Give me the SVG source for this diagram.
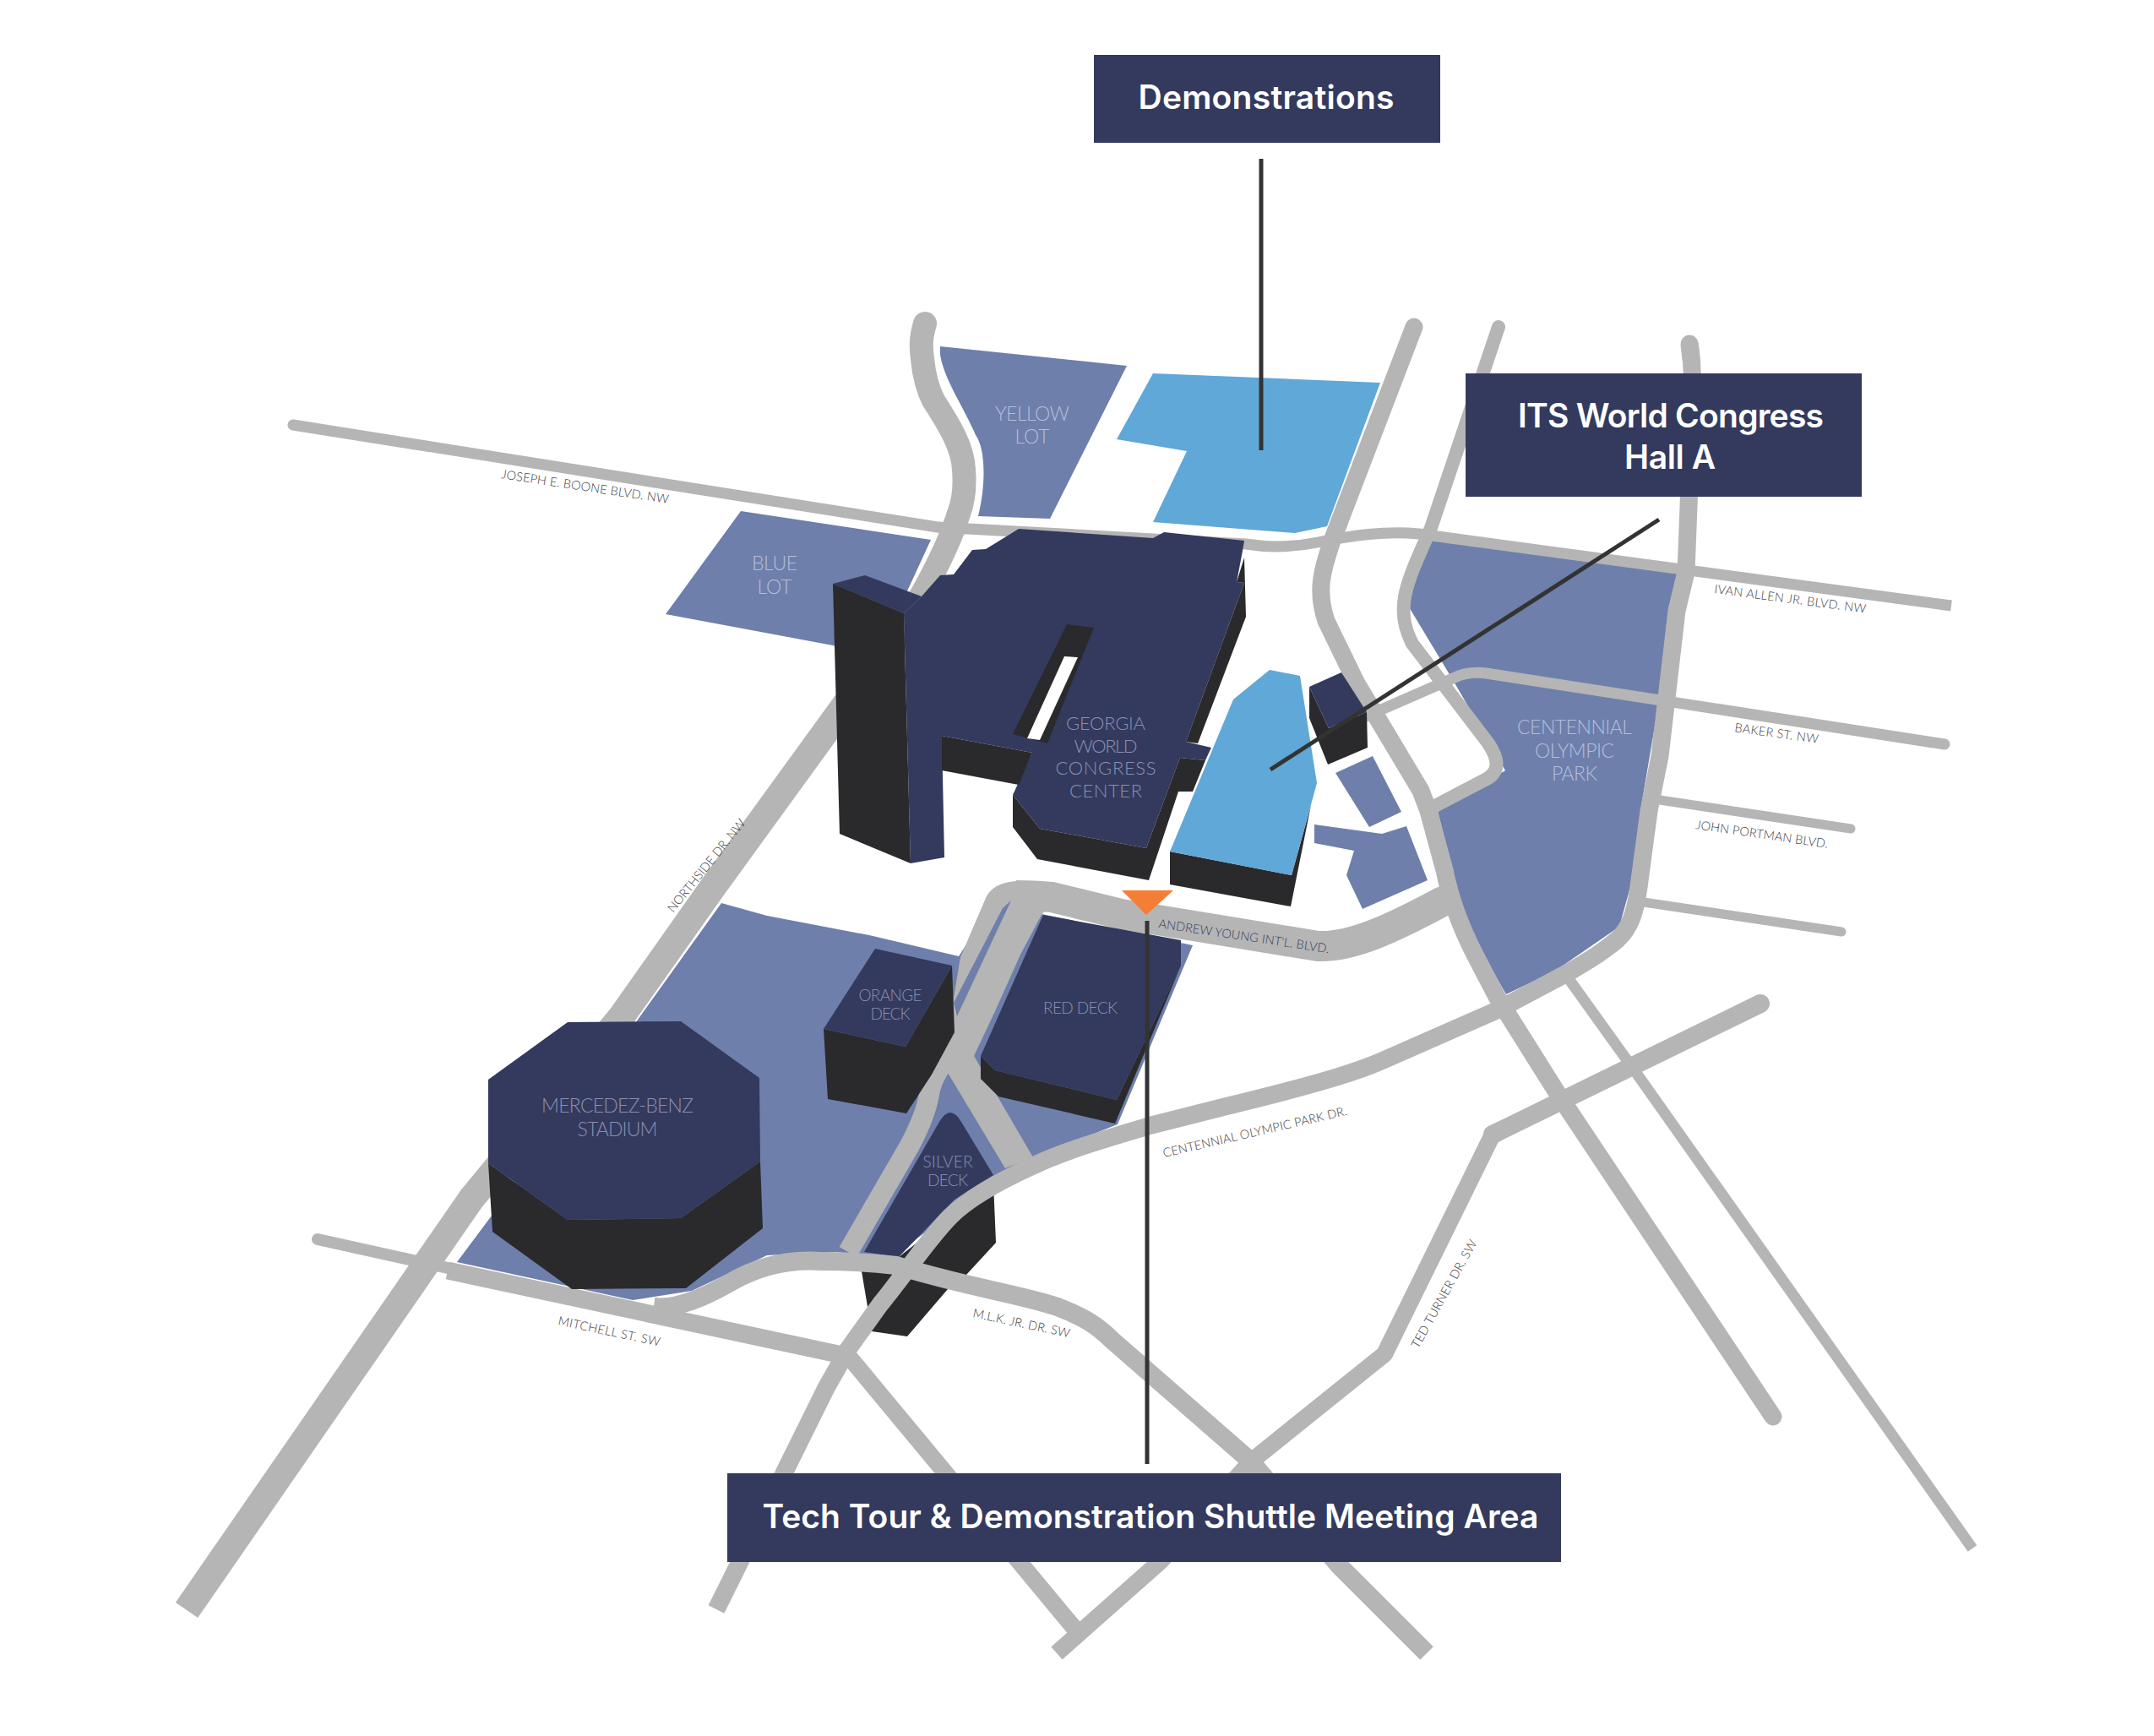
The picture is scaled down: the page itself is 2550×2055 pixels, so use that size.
<svg xmlns="http://www.w3.org/2000/svg" width="2550" height="2055" viewBox="0 0 2550 2055">
<style>
.lot{fill:#6e7fab}
.hall{fill:#5fa8d8}
.navy{fill:#333a5e}
.dark{fill:#2a2a2c}
.road{fill:none;stroke:#b5b5b5;stroke-linejoin:round}
.roadfill{fill:#b5b5b5}
.rc{stroke-linecap:round}
.call{fill:#333a5e}
.ct{font-family:"Inter","Liberation Sans",sans-serif;font-weight:600;fill:#fff;font-size:39px;text-anchor:middle}
.ll{font-family:"Lato","Liberation Sans",sans-serif;font-weight:300;fill:#b3bedc;text-anchor:middle;font-size:23px}
.nl{font-family:"Lato","Liberation Sans",sans-serif;font-weight:300;fill:#8a8fb2;text-anchor:middle;font-size:22px}
.st{font-family:"Lato","Liberation Sans",sans-serif;font-weight:300;fill:#3a3a42;font-size:14.5px}
.cl{stroke:#333;stroke-width:5;fill:none}
</style>
<rect width="2550" height="2055" fill="#fff"/>
<g id="lots">
<path id="yellow-lot" class="lot" d="M1113,410 L1334,433 L1243,614 L1158,611 C1168,570 1166,530 1155,515 C1140,480 1118,450 1113,420Z"/>
<path id="blue-lot" class="lot" d="M877,605 L1102,639 L1060,730 L1040,780 L986,764 L788,727Z"/>
<path id="demo-area" class="hall" d="M1365,442 L1634,453 L1571,623 L1533,631 L1365,618 L1405,534 L1322,520Z"/>
<path id="stadium-lot" class="lot" d="M854,1069 L908,1084 L1029,1107 L1135,1132 L1178,1065 L1225,1075 L1233,1082 L1412,1119 L1323,1331 L1224,1370 L1215,1395 L1176,1400 L1050,1492 L991,1482 L908,1486 L819,1528 L749,1539 L541,1494 L755,1207Z"/>
<path id="park" class="lot" d="M1690,639 L1995,680 L1965,824 L1942,960 L1930,1050 L1917,1097 L1840,1150 L1783,1177 L1740,1103 L1720,1033 L1702,960 L1782,912 L1720,805 L1667,717 L1672,680Z"/>
<path id="small-lot-1" class="lot" d="M1625,895 L1581,915 L1621,979 L1659,961Z"/>
<path id="small-lot-2" class="lot" d="M1556,976 L1636,987 L1665,978 L1690,1042 L1613,1076 L1594,1036 L1603,1007 L1556,998Z"/>
</g>
<g id="silver-deck">
<path class="dark" d="M1176,1400 L1179,1471 L1144,1509 L1122,1526 L1074,1582 L1032,1576 L1020,1505 L1064,1488Z"/>
<path class="navy" d="M1112,1328 Q1125,1306 1138,1328 L1176,1391 L1130,1420 L1064,1488 L1023,1482Z"/>
</g>
<g id="roads">
<path class="road rc" stroke-width="28" d="M1095,383 C1090,400 1090,410 1092,425 C1094,445 1098,460 1105,474 C1125,505 1140,530 1141,556 C1143,580 1140,595 1135,608 C1125,640 1110,670 1091,704 L1040,780"/>
<path class="road" stroke-width="32" d="M1040,780 L844,1050 L736,1203 L558,1419 L221,1906"/>
<path class="road rc" stroke-width="13" d="M347,503 L1110,624"/>
<path class="road" stroke-width="13" d="M1110,624 L1475,644 C1500,648 1530,648 1560,642 C1600,634 1640,628 1680,632 L2310,717"/>
<path class="road rc" stroke-width="21" d="M1674,387 L1577,640 C1565,675 1558,700 1570,735 L1606,809 L1682,936 L1691,960 L1710,1030 C1716,1060 1728,1095 1746,1130 L1772,1180 L1843,1293 L2099,1677"/>
<path class="road rc" stroke-width="16" d="M1774,387 L1694,625 C1665,690 1650,720 1672,762 L1762,880 Q1782,910 1760,922 L1697,955"/>
<path class="road rc" stroke-width="13" d="M1617,848 L1720,803 Q1740,793 1766,798 L2302,881"/>
<path class="road rc" stroke-width="21" d="M2000,407 L2002,425"/>
<path class="road" stroke-width="21" d="M2000,407 C2006,440 2003,480 1999,600 L1996,677 L1985,723 L1965,895 L1952,960 L1940,1050 C1936,1080 1930,1098 1915,1112 C1900,1125 1870,1145 1840,1160 L1772,1196 L1640,1254 C1600,1272 1540,1288 1450,1310 L1363,1332 C1310,1348 1260,1362 1223,1380 C1190,1395 1150,1415 1125,1440 C1100,1465 1070,1510 1042,1544 L1004,1597 L978,1643 L928,1744 L848,1905"/>
<path class="road rc" stroke-width="11" d="M1965,947 L2191,981"/>
<path class="road rc" stroke-width="11" d="M1946,1068 L2180,1103"/>
<path class="road" stroke-width="13" d="M1858,1160 L1937,1270 L2335,1833"/>
<path class="road" stroke-width="20" d="M1251,1957 L1374,1848 L1481,1730 L1639,1603 L1767,1343"/>
<path class="road rc" stroke-width="22" d="M1767,1343 L2084,1188"/>
<path class="road rc" stroke-width="14" d="M376,1467 L530,1501"/>
<path class="road" stroke-width="21" d="M530,1504 L997,1604"/>
<path class="road" stroke-width="22" d="M774,1547 C800,1550 835,1535 863,1519 C895,1500 930,1490 972,1493 C1005,1493 1035,1495 1061,1498 C1150,1525 1200,1530 1252,1547 C1285,1560 1300,1570 1316,1586 L1481,1730 L1585,1853 L1689,1957"/>
<path class="road" stroke-width="20" d="M1000,1600 L1274,1930"/>
<path class="road" stroke-width="36" d="M1725,1060 L1706,1068 C1650,1098 1600,1122 1560,1120 L1450,1102 L1327,1082 L1245,1062 Q1225,1060 1203,1060"/>
<path class="roadfill" d="M1203,1043 Q1175,1045 1167,1063 L1137,1133 L1128,1187 L1117,1247 Q1115,1260 1122,1270 L1190,1383 L1223,1370 L1153,1250 L1178,1197 L1208,1130 L1233,1083 L1260,1050Z"/>
<path class="lot" d="M1197,1066 L1133,1203 L1129,1187 L1187,1075Z"/>
<path class="road" stroke-width="24" d="M1130,1240 C1115,1260 1103,1275 1100,1295 C1097,1315 1088,1335 1077,1356 L1004,1482"/>
</g>
<g id="georgia-world-congress-center">
<path class="navy" d="M1091,706 L1113,681 L1129,680 L1151,651 L1167,650 L1206,626 L1365,637 L1378,630 L1473,640 L1471,652 L1464,689 L1473,690 L1404,878 L1434,885 L1427,900 L1397,897 L1357,1004 L1231,981 L1199,941 L1222,891 L1115,871 L1118,1015 L1078,1022 L1070,726Z"/>
<path class="navy" d="M986,691 L1024,681 L1091,706 L1070,726Z"/>
<path class="dark" d="M986,691 L1070,726 L1078,1022 L994,987Z"/>
<path class="dark" d="M1115,871 L1222,891 L1206,929 L1115,912Z"/>
<path class="dark" d="M1263,739 L1295,743 L1240,880 L1199,869Z"/>
<path fill="#fff" d="M1260,777 L1276,778 L1231,876 L1216,874Z"/>
<path class="dark" d="M1473,660 L1475,730 L1418,880 L1404,878 L1473,690 L1464,689Z"/>
<path class="dark" d="M1199,941 L1199,979 L1228,1017 L1360,1042 L1395,937 L1412,937 L1427,900 L1397,897 L1357,1004 L1231,981Z"/>
<text class="nl" x="1309" y="864" textLength="94">GEORGIA</text>
<text class="nl" x="1309" y="891" textLength="75">WORLD</text>
<text class="nl" x="1309" y="917" textLength="119">CONGRESS</text>
<text class="nl" x="1309" y="944" textLength="86">CENTER</text>
</g>
<g id="hall-a">
<path class="dark" d="M1385,1008 L1385,1047 L1528,1073 L1552,953 L1529,1036Z"/>
<path class="hall" d="M1503,793 L1539,800 L1559,927 L1529,1036 L1385,1008 L1460,828Z"/>
</g>
<g id="small-building">
<path class="dark" d="M1550,813 L1550,850 L1572,905 L1619,885 L1618,843 L1573,862Z"/>
<path class="navy" d="M1588,796 L1550,813 L1573,862 L1618,843Z"/>
</g>
<g id="orange-deck">
<path class="dark" d="M975,1218 L980,1301 L1073,1318 L1103,1272 L1130,1222 L1127,1143 L1072,1239Z"/>
<path class="navy" d="M1036,1123 L1127,1143 L1072,1239 L975,1218Z"/>
<text class="nl" style="font-size:19px" x="1054" y="1185" textLength="75">ORANGE</text>
<text class="nl" style="font-size:19px" x="1054" y="1207" textLength="47">DECK</text>
</g>
<g id="red-deck">
<path class="dark" d="M1161,1250 L1161,1277 L1182,1298 L1320,1330 L1398,1143 L1322,1302 L1178,1267Z"/>
<path class="navy" d="M1235,1083 L1398,1113 L1398,1143 L1322,1302 L1178,1267 L1161,1250Z"/>
<text class="nl" style="font-size:19px" x="1279" y="1200" textLength="88">RED DECK</text>
</g>
<g id="mercedes-benz-stadium">
<path class="dark" d="M578,1377 L583,1458 L677,1526 L812,1525 L903,1454 L900,1375 L806,1442 L672,1444Z"/>
<path class="navy" d="M672,1210 L806,1209 L899,1276 L900,1375 L806,1442 L672,1444 L578,1377 L578,1278Z"/>
<text class="nl" style="font-size:23px" x="731" y="1317" textLength="180">MERCEDEZ-BENZ</text>
<text class="nl" style="font-size:23px" x="731" y="1345" textLength="95">STADIUM</text>
</g>
<g id="lot-labels">
<text class="ll" x="1222" y="498" textLength="88">YELLOW</text>
<text class="ll" x="1222" y="525" textLength="41">LOT</text>
<text class="ll" x="917" y="675" textLength="54">BLUE</text>
<text class="ll" x="917" y="703" textLength="41">LOT</text>
<text class="ll" x="1864" y="869" textLength="136">CENTENNIAL</text>
<text class="ll" x="1864" y="897" textLength="94">OLYMPIC</text>
<text class="ll" x="1864" y="924" textLength="54">PARK</text>
<text class="nl" style="font-size:19px" x="1122" y="1382" textLength="59">SILVER</text>
<text class="nl" style="font-size:19px" x="1122" y="1404" textLength="48">DECK</text>
</g>
<g id="street-labels">
<text class="st" transform="translate(593,566) rotate(8.6)" textLength="200">JOSEPH E. BOONE BLVD. NW</text>
<text class="st" transform="translate(2029,702) rotate(7.5)" textLength="181">IVAN ALLEN JR. BLVD. NW</text>
<text class="st" transform="translate(2053,866) rotate(8)" textLength="100">BAKER ST. NW</text>
<text class="st" transform="translate(2007,981) rotate(8.3)" textLength="158">JOHN PORTMAN BLVD.</text>
<text class="st" style="fill:#333a5e" transform="translate(1371,1098) rotate(8.5)" textLength="204">ANDREW YOUNG INT'L. BLVD.</text>
<text class="st" transform="translate(797,1081) rotate(-51)" textLength="137">NORTHSIDE DR. NW</text>
<text class="st" transform="translate(1378,1370) rotate(-13)" textLength="223">CENTENNIAL OLYMPIC PARK DR.</text>
<text class="st" transform="translate(1679,1597) rotate(-61)" textLength="144">TED TURNER DR. SW</text>
<text class="st" transform="translate(1151,1559) rotate(12)" textLength="117">M.L.K. JR. DR. SW</text>
<text class="st" transform="translate(660,1568) rotate(12)" textLength="123">MITCHELL ST. SW</text>
</g>
<g id="connectors">
<path class="cl" d="M1493,188 L1493,533"/>
<path class="cl" d="M1964,615 L1504,911"/>
<path class="cl" d="M1358,1090 L1358,1733"/>
</g>
<path id="shuttle-marker" fill="#f47e36" d="M1328,1054 L1389,1054 L1357,1083Z"/>
<g id="demonstrations">
<rect class="call" x="1295" y="65" width="410" height="104"/>
<text class="ct" x="1499" y="129" textLength="303">Demonstrations</text>
</g>
<g id="its-world-congress">
<rect class="call" x="1735" y="442" width="469" height="146"/>
<text class="ct" x="1978" y="506" textLength="362">ITS World Congress</text>
<text class="ct" x="1977" y="555" textLength="108">Hall A</text>
</g>
<g id="shuttle-meeting-area">
<rect class="call" x="861" y="1744" width="987" height="105"/>
<text class="ct" x="1362" y="1809" textLength="919">Tech Tour &amp; Demonstration Shuttle Meeting Area</text>
</g>
</svg>
